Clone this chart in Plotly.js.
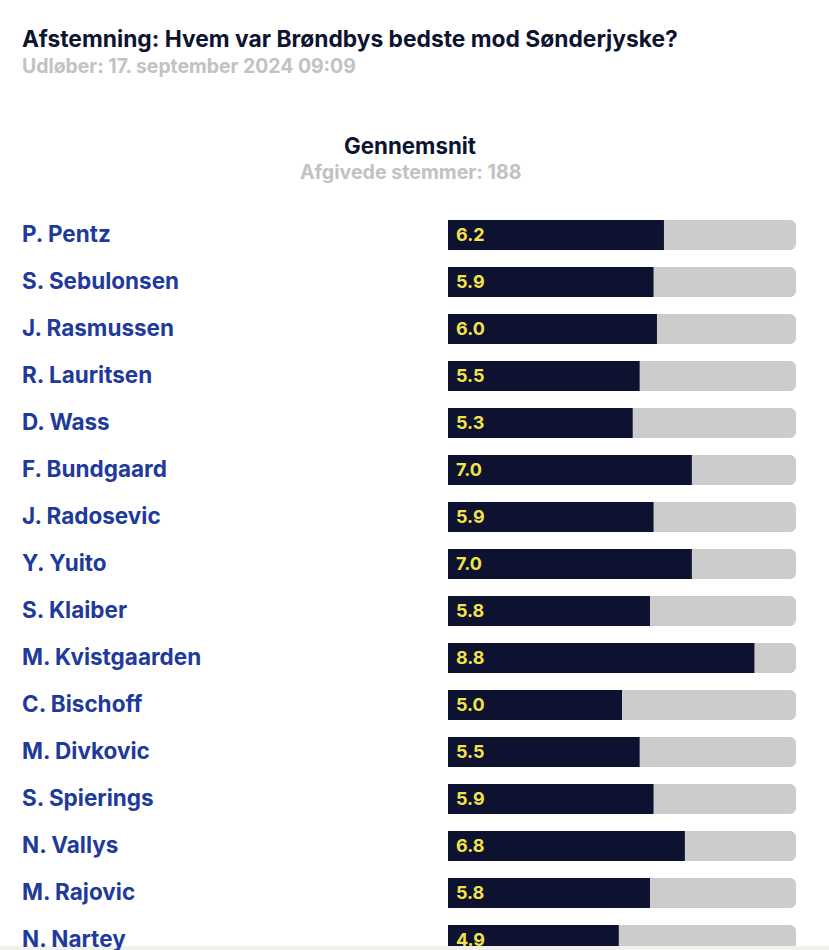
<!DOCTYPE html>
<html>
<head>
<meta charset="utf-8">
<script src="https://cdn.plot.ly/plotly-3.0.1.min.js"></script>
<style>html,body{margin:0;padding:0;background:#fff;}#chart{width:829px;height:950px;}</style>
</head>
<body>
<div id="chart"></div>
<script>
const players = ["P. Pentz","S. Sebulonsen","J. Rasmussen","R. Lauritsen","D. Wass","F. Bundgaard","J. Radosevic","Y. Yuito","S. Klaiber","M. Kvistgaarden","C. Bischoff","M. Divkovic","S. Spierings","N. Vallys","M. Rajovic","N. Nartey"];
const ratings = [6.2,5.9,6.0,5.5,5.3,7.0,5.9,7.0,5.8,8.8,5.0,5.5,5.9,6.8,5.8,4.9];
const maxRating = 10;
const titleText = "Afstemning: Hvem var Brøndbys bedste mod Sønderjyske?";
const subtitleText = "Udløber: 17. september 2024 09:09";
const headerText = "Gennemsnit";
const votesText = "Afgivede stemmer: 188";

const FONT = "Inter, 'Open Sans', sans-serif";
const DARK = "#0c1230";
const GREY = "#cccccc";
const YELLOW = "#f3e24a";
const BLUE = "#1f3a9d";

const idx = players.map((_, i) => i);
const barW = 30/47;

const traces = [
  {type:"bar", orientation:"h", y: idx, x: players.map(() => maxRating), width: barW,
   marker:{color:GREY, cornerradius:6}, hoverinfo:"skip"},
  {type:"bar", orientation:"h", y: idx, x: ratings, width: barW,
   marker:{color:DARK, cornerradius:6}, hoverinfo:"skip"},
  {type:"bar", orientation:"h", y: idx, base: ratings.map(() => 0.5), x: ratings.map(v => v - 0.5), width: barW,
   marker:{color:DARK}, hoverinfo:"skip"}
];

const annotations = [];
players.forEach((p, i) => {
  annotations.push({x:0, xref:"paper", xshift:20, y:i, yref:"y", yshift:2, text:p, showarrow:false, xanchor:"left", yanchor:"middle",
    font:{family:FONT, size:22.5, color:BLUE, weight:700}});
  annotations.push({x:0, xref:"x", xshift:6, y:i, yref:"y", yshift:1, text:ratings[i].toFixed(1), showarrow:false, xanchor:"left", yanchor:"middle",
    font:{family:FONT, size:18, color:YELLOW, weight:700}});
});
annotations.push({x:0, xref:"paper", xshift:20, y:1-39/950, yref:"paper", text:titleText, showarrow:false, xanchor:"left", yanchor:"middle",
  font:{family:FONT, size:22.8, color:"#0d1430", weight:700}});
annotations.push({x:0, xref:"paper", xshift:20, y:1-66/950, yref:"paper", text:subtitleText, showarrow:false, xanchor:"left", yanchor:"middle",
  font:{family:FONT, size:19.4, color:"#c2c2c2", weight:700}});
annotations.push({x:410/829, xref:"paper", y:1-146/950, yref:"paper", text:headerText, showarrow:false, xanchor:"center", yanchor:"middle",
  font:{family:FONT, size:22.3, color:"#0d1430", weight:700}});
annotations.push({x:410/829, xref:"paper", y:1-172/950, yref:"paper", text:votesText, showarrow:false, xanchor:"center", yanchor:"middle",
  font:{family:FONT, size:19.6, color:"#c2c2c2", weight:700}});

const layout = {
  width:829, height:950,
  margin:{l:0, r:0, t:0, b:0},
  paper_bgcolor:"#ffffff", plot_bgcolor:"#ffffff",
  barmode:"overlay", showlegend:false,
  xaxis:{domain:[448/829, 796/829], range:[0, maxRating], visible:false, fixedrange:true},
  yaxis:{range:[-5 + 950/47, -5], visible:false, fixedrange:true},
  annotations: annotations,
  shapes:[{type:"rect", xref:"paper", yref:"paper", x0:0, x1:1, y0:0, y1:4/950, fillcolor:"#f0f0ec", line:{width:0}, layer:"above"}]
};

Plotly.newPlot("chart", traces, layout, {displayModeBar:false, staticPlot:true});
</script>
</body>
</html>
